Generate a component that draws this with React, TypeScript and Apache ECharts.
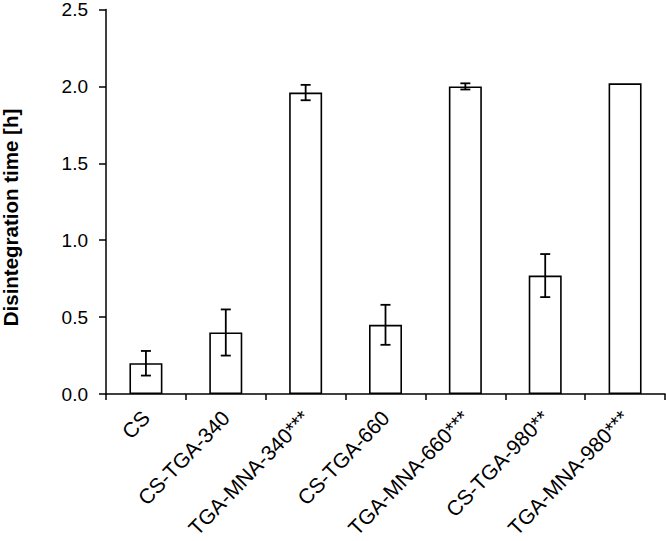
import React, { useEffect, useRef } from "react";
import * as echarts from "echarts";

const categories = [
  "CS",
  "CS-TGA-340",
  "TGA-MNA-340***",
  "CS-TGA-660",
  "TGA-MNA-660***",
  "CS-TGA-980**",
  "TGA-MNA-980***",
];
const means = [0.2, 0.4, 1.96, 0.45, 2.0, 0.77, 2.02];
const errors = [0.08, 0.15, 0.05, 0.13, 0.02, 0.14, 0];
const yTicks = [0, 0.5, 1.0, 1.5, 2.0, 2.5];
const yTitle = "Disintegration time [h]";

const FONT = "'Liberation Sans', Arial, Helvetica, sans-serif";

export default function App() {
  const ref = useRef<HTMLDivElement>(null);
  useEffect(() => {
    if (!ref.current) return;
    const chart = echarts.init(ref.current, undefined, { renderer: "svg" });
    const errData = categories.map((_, i) => [i, means[i] - errors[i], means[i] + errors[i], errors[i]]);
    chart.setOption({
      animation: false,
      backgroundColor: "#ffffff",
      grid: { left: 106, right: 1, top: 8, bottom: 145, containLabel: false },
      xAxis: {
        type: "category",
        data: categories,
        boundaryGap: true,
        axisLine: { show: true, lineStyle: { color: "#000", width: 1.5 } },
        axisTick: { show: true, length: 6, alignWithLabel: false, lineStyle: { color: "#000", width: 1.5 } },
        axisLabel: {
          interval: 0,
          rotate: 46,
          margin: 20,
          color: "#000",
          fontSize: 21,
          fontFamily: FONT,
        },
        splitLine: { show: false },
      },
      yAxis: {
        type: "value",
        min: yTicks[0],
        max: yTicks[yTicks.length - 1],
        interval: 0.5,
        axisLine: { show: true, lineStyle: { color: "#000", width: 1.5 } },
        axisTick: { show: true, length: 7, inside: false, lineStyle: { color: "#000", width: 1.5 } },
        axisLabel: {
          color: "#000",
          fontSize: 19,
          fontFamily: FONT,
          margin: 18,
          formatter: (v: number) => v.toFixed(1),
        },
        splitLine: { show: false },
      },
      graphic: [
        {
          type: "text",
          x: 10,
          y: 217.5,
          rotation: Math.PI / 2,
          style: {
            text: yTitle,
            font: `bold 20.5px ${FONT}`,
            fill: "#000",
            textAlign: "center",
            textVerticalAlign: "middle",
          },
        },
      ],
      series: [
        {
          type: "bar",
          data: means,
          barWidth: 33,
          itemStyle: { color: "#ffffff", borderColor: "#000", borderWidth: 1.6 },
          z: 2,
        },
        {
          type: "custom",
          data: errData,
          z: 3,
          encode: { x: 0, y: [1, 2] },
          renderItem: (params: any, api: any) => {
            const e = api.value(3);
            if (!e) return null;
            const i = api.value(0);
            const lo = api.coord([i, api.value(1)]);
            const hi = api.coord([i, api.value(2)]);
            const half = 5;
            const style = { stroke: "#000", lineWidth: 1.8, fill: "none" };
            return {
              type: "group",
              children: [
                { type: "line", shape: { x1: lo[0], y1: lo[1], x2: hi[0], y2: hi[1] }, style },
                { type: "line", shape: { x1: hi[0] - half, y1: hi[1], x2: hi[0] + half, y2: hi[1] }, style },
                { type: "line", shape: { x1: lo[0] - half, y1: lo[1], x2: lo[0] + half, y2: lo[1] }, style },
              ],
            };
          },
        },
      ],
    });
    return () => chart.dispose();
  }, []);
  return (
    <div
      ref={ref}
      style={{ position: "fixed", left: 0, top: 0, width: 666, height: 541, background: "#fff" }}
    />
  );
}
